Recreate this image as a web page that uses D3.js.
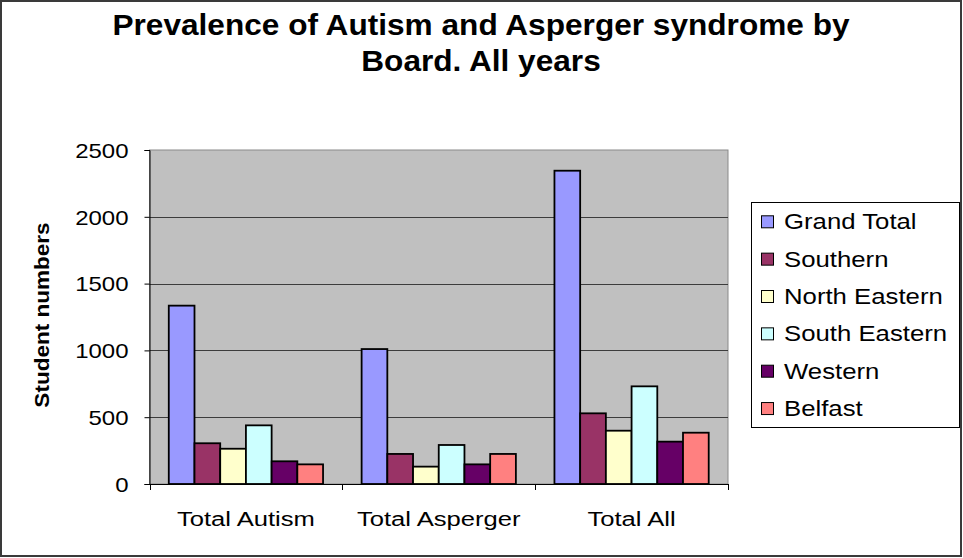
<!DOCTYPE html>
<html>
<head>
<meta charset="utf-8">
<script src="https://cdn.jsdelivr.net/npm/d3@7"></script>
<style>
  html, body { margin: 0; padding: 0; background: #fff; }
  svg { display: block; }
  text { font-family: "Liberation Sans", Arial, sans-serif; fill: #000; }
</style>
</head>
<body>
<svg id="chart" width="963" height="558"></svg>
<script>
// Prevalence data by education board
const categories = ["Total Autism", "Total Asperger", "Total All"];
const seriesNames = ["Grand Total", "Southern", "North Eastern", "South Eastern", "Western", "Belfast"];
const grandTotal   = [1335, 1010, 2345];
const southern     = [305, 225, 529];
const northEastern = [264, 130, 399];
const southEastern = [439, 292, 731];
const western      = [170, 147, 317];
const belfast      = [147, 225, 384];
const yTicks = [0, 500, 1000, 1500, 2000, 2500];
const seriesColors = ["#9999FF", "#993366", "#FFFFCC", "#CCFFFF", "#660066", "#FF8080"];

const seriesValues = [grandTotal, southern, northEastern, southEastern, western, belfast];

const svg = d3.select("#chart");
const W = 963, H = 558;

// outer frame
svg.append("rect")
  .attr("x", 1).attr("y", 1).attr("width", W - 3).attr("height", H - 3)
  .attr("fill", "#fff").attr("stroke", "#3a3a3a").attr("stroke-width", 2);

// plot area
const plot = { left: 149.5, right: 728, top: 150, bottom: 484 };

const x0 = d3.scaleBand().domain(categories).range([plot.left, plot.right]).paddingInner(0).paddingOuter(0);
const x1 = d3.scaleBand().domain(seriesNames).range([0, x0.bandwidth()]).paddingInner(0).paddingOuter(0.75);
const y = d3.scaleLinear().domain([0, 2500]).range([plot.bottom, plot.top]);

svg.append("rect")
  .attr("x", plot.left).attr("y", plot.top)
  .attr("width", plot.right - plot.left).attr("height", plot.bottom - plot.top)
  .attr("fill", "#C0C0C0").attr("stroke", "#8a8a8a").attr("stroke-width", 1);

// horizontal gridlines
svg.append("g").selectAll("line")
  .data(yTicks.filter(t => t > 0 && t < 2500))
  .join("line")
  .attr("x1", plot.left).attr("x2", plot.right)
  .attr("y1", d => Math.round(y(d)) + 0.5).attr("y2", d => Math.round(y(d)) + 0.5)
  .attr("stroke", "#3c3c3c").attr("stroke-width", 1);

// bars
const groups = svg.append("g").selectAll("g")
  .data(categories)
  .join("g")
  .attr("transform", d => `translate(${x0(d)},0)`);

groups.selectAll("rect")
  .data((c, ci) => seriesNames.map((s, si) => ({ s, si, v: seriesValues[si][ci] })))
  .join("rect")
  .attr("x", d => x1(d.s))
  .attr("y", d => y(d.v))
  .attr("width", x1.bandwidth())
  .attr("height", d => y(0) - y(d.v))
  .attr("fill", d => seriesColors[d.si])
  .attr("stroke", "#000").attr("stroke-width", 1.8);

// y axis
const yAxis = svg.append("g")
  .attr("transform", `translate(${plot.left},0)`)
  .call(d3.axisLeft(y).tickValues(yTicks).tickSize(5).tickFormat(d3.format("d")));
yAxis.select(".domain").attr("stroke", "#000");
yAxis.selectAll(".tick line").attr("stroke", "#000");
yAxis.selectAll(".tick text").remove();
yAxis.selectAll(".tick").append("text")
  .attr("transform", "translate(-21,0) scale(1.2,1)")
  .attr("text-anchor", "end")
  .attr("dy", "0.36em")
  .style("font-size", "20px")
  .text(d => d);

// x axis with category boundary ticks
const xAxisG = svg.append("g");
xAxisG.append("line")
  .attr("x1", plot.left).attr("x2", plot.right)
  .attr("y1", plot.bottom + 0.5).attr("y2", plot.bottom + 0.5)
  .attr("stroke", "#000");
const boundaries = categories.map(c => x0(c)).concat([x0(categories[categories.length - 1]) + x0.bandwidth()]);
xAxisG.selectAll("line.tk")
  .data(boundaries)
  .join("line").attr("class", "tk")
  .attr("x1", d => Math.round(d) + 0.5).attr("x2", d => Math.round(d) + 0.5)
  .attr("y1", plot.bottom).attr("y2", plot.bottom + 6)
  .attr("stroke", "#000");
xAxisG.selectAll("text")
  .data(categories)
  .join("text")
  .attr("transform", d => `translate(${x0(d) + x0.bandwidth() / 2},526) scale(1.22,1)`)
  .attr("text-anchor", "middle")
  .style("font-size", "21px")
  .text(d => d);

// y axis title
svg.append("text")
  .attr("transform", "translate(49,315) rotate(-90) scale(1.1,1)")
  .attr("text-anchor", "middle")
  .style("font-size", "20.5px").style("font-weight", "bold")
  .text("Student numbers");

// chart title
const titleLines = ["Prevalence of Autism and Asperger syndrome by", "Board. All years"];
svg.append("g").selectAll("text")
  .data(titleLines)
  .join("text")
  .attr("transform", (d, i) => `translate(481,${35 + i * 35.5}) scale(1.09,1)`)
  .attr("text-anchor", "middle")
  .style("font-size", "29px").style("font-weight", "bold")
  .text(d => d);

// legend
const legend = svg.append("g");
legend.append("rect")
  .attr("x", 751.5).attr("y", 202.5).attr("width", 208).attr("height", 225)
  .attr("fill", "#fff").attr("stroke", "#000").attr("stroke-width", 1);
const items = legend.selectAll("g.item")
  .data(seriesNames)
  .join("g").attr("class", "item")
  .attr("transform", (d, i) => `translate(761,${229.3 + i * 37.35})`);
items.append("rect")
  .attr("x", 0.5).attr("y", -13.5).attr("width", 12).attr("height", 12)
  .attr("fill", (d, i) => seriesColors[i])
  .attr("stroke", "#000").attr("stroke-width", 1);
items.append("text")
  .attr("transform", "translate(23,0) scale(1.17,1)")
  .style("font-size", "22px")
  .text(d => d);
</script>
</body>
</html>
